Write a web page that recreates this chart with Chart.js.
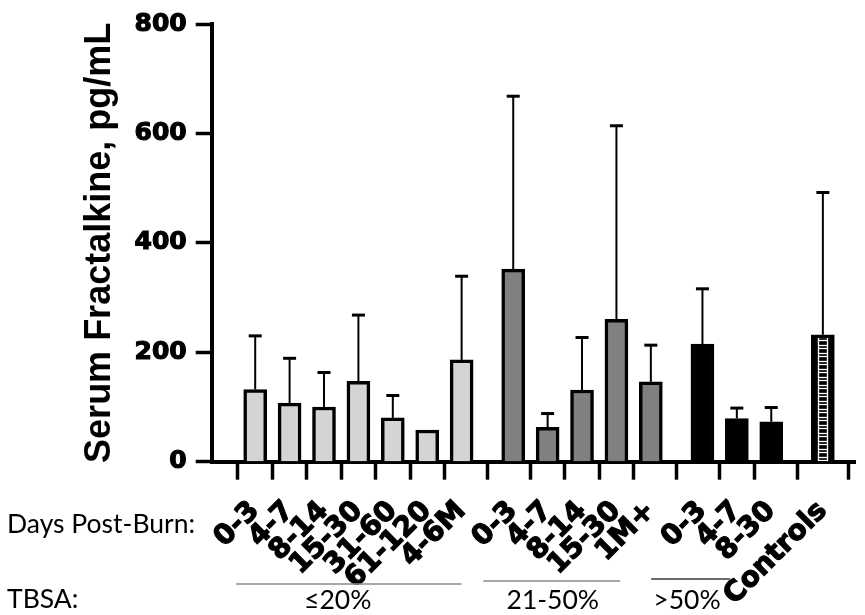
<!DOCTYPE html>
<html>
<head>
<meta charset="utf-8">
<script src="https://cdn.jsdelivr.net/npm/chart.js@4.4.0/dist/chart.umd.min.js"></script>
<style>
  html, body { margin: 0; padding: 0; background: #fff; }
</style>
</head>
<body>
<canvas id="chart" width="865" height="615"></canvas>
<script>
// days post-burn, per TBSA group, then the control group
const dayLabels = ['0-3', '4-7', '8-14', '15-30', '31-60', '61-120', '4-6M',
                   '0-3', '4-7', '8-14', '15-30', '1M+',
                   '0-3', '4-7', '8-30',
                   'Controls'];
// slot of each bar on the x axis (half a slot between groups)
const xSlots = [0, 1, 2, 3, 4, 5, 6,
                7.5, 8.5, 9.5, 10.5, 11.5,
                13, 14, 15,
                16.5];
const meanValues = [132, 107, 100, 147, 80, 58, 186,
                    352, 63, 131, 260, 146,
                    215, 79, 73,
                    232];
// top of the (upper only) error bar, null = none
const upperError = [230, 189, 163, 268, 121, null, 339,
                    668, 88, 227, 614, 213,
                    316, 98, 99,
                    492];
const yTicks = [0, 200, 400, 600, 800];

const tbsaGroups = ['≤20%', '21-50%', '>50%'];
const groupSpans = [[-0.55, 6.0], [6.63, 10.61], [11.51, 13.8]];
const groupCenters = [2.4, 8.65, 12.55];
const groupLineY = [584, 581, 579];
const groupLineColor = ['#8a8a8a', '#8a8a8a', '#3a3a3a'];

const BAR_W = 23;
const BAR_BORDER = 3.5;

// white "brick" motif on black for the control bar
function brickPattern() {
  const c = document.createElement('canvas');
  c.width = 16; c.height = 8;
  const g = c.getContext('2d');
  g.fillStyle = '#000';
  g.fillRect(0, 0, 16, 8);
  g.strokeStyle = '#fff';
  g.lineWidth = 1.3;
  g.strokeRect(3.5, 1.5, 9, 3);
  g.beginPath();
  g.moveTo(3.5, 4.5); g.lineTo(3.5, 9.5);
  g.moveTo(12.5, 4.5); g.lineTo(12.5, 9.5);
  g.moveTo(3.5, -1); g.lineTo(3.5, 1.5);
  g.moveTo(12.5, -1); g.lineTo(12.5, 1.5);
  g.stroke();
  return g.createPattern(c, 'repeat');
}

const ctx = document.getElementById('chart').getContext('2d');
const controlPattern = brickPattern();

const barColors = dayLabels.map((l, i) => {
  if (i < 7) return '#d4d4d4';
  if (i < 12) return '#808080';
  if (i < 15) return '#000000';
  return controlPattern;
});

// line the pattern up with the inside of the control bar
const patternAlign = {
  id: 'patternAlign',
  beforeDatasetsDraw(chart) {
    const meta = chart.getDatasetMeta(0);
    const bar = meta.data[meta.data.length - 1];
    const left = Math.round(bar.x - BAR_W / 2 + BAR_BORDER);
    controlPattern.setTransform(new DOMMatrix().translate(left, 0));
  }
};

const errorBars = {
  id: 'errorBars',
  afterDatasetsDraw(chart) {
    const c = chart.ctx;
    const y = chart.scales.y;
    const meta = chart.getDatasetMeta(0);
    c.save();
    c.strokeStyle = '#000';
    meta.data.forEach((bar, i) => {
      const hi = upperError[i];
      if (hi == null) return;
      const top = y.getPixelForValue(hi);
      c.lineWidth = 2;
      c.beginPath();
      c.moveTo(bar.x, bar.y);
      c.lineTo(bar.x, top);
      c.stroke();
      c.lineWidth = 3;
      c.beginPath();
      c.moveTo(bar.x - 6.5, top);
      c.lineTo(bar.x + 6.5, top);
      c.stroke();
    });
    c.restore();
  }
};

const footLabels = {
  id: 'footLabels',
  afterDraw(chart) {
    const c = chart.ctx;
    const x = chart.scales.x;
    c.save();
    c.fillStyle = '#000';
    c.font = '26.5px Lato';
    c.textAlign = 'left';
    c.textBaseline = 'alphabetic';
    c.fillText('Days Post-Burn:', 7, 533);
    c.fillText('TBSA:', 7, 608);
    c.textAlign = 'center';
    tbsaGroups.forEach((g, i) => {
      c.strokeStyle = groupLineColor[i];
      c.lineWidth = 1.5;
      c.beginPath();
      c.moveTo(x.getPixelForValue(groupSpans[i][0]), groupLineY[i]);
      c.lineTo(x.getPixelForValue(groupSpans[i][1]), groupLineY[i]);
      c.stroke();
      c.fillText(g, x.getPixelForValue(groupCenters[i]), 609);
    });
    c.restore();
  }
};

const tickFont = { family: 'DejaVu Sans', weight: 'bold', size: 25 };

new Chart(ctx, {
  type: 'bar',
  data: {
    datasets: [{
      data: xSlots.map((v, i) => ({ x: v, y: meanValues[i] })),
      backgroundColor: barColors,
      borderColor: '#000',
      borderWidth: BAR_BORDER,
      barThickness: BAR_W
    }]
  },
  options: {
    responsive: false,
    animation: false,
    layout: { padding: { top: 24, right: 10, left: 0, bottom: 0 } },
    plugins: { legend: { display: false }, tooltip: { enabled: false } },
    scales: {
      x: {
        type: 'linear',
        min: -0.68,
        max: 16.85,
        afterBuildTicks: s => { s.ticks = xSlots.map(v => ({ value: v })); },
        afterFit: s => { s.height = 153.3; },
        grid: { drawOnChartArea: false, tickLength: 18, tickWidth: 3.5, tickColor: '#000' },
        border: { display: true, color: '#000', width: 4 },
        ticks: {
          autoSkip: false,
          minRotation: 45,
          maxRotation: 45,
          padding: 15,
          color: '#000',
          textStrokeColor: '#000',
          textStrokeWidth: 1.2,
          font: { family: 'DejaVu Sans', weight: 'bold', size: 28 },
          callback: (v, i) => dayLabels[i]
        }
      },
      y: {
        min: 0,
        max: 800,
        afterBuildTicks: s => { s.ticks = yTicks.map(v => ({ value: v })); },
        afterFit: s => { s.width = 211.7; },
        grid: { drawOnChartArea: false, tickLength: 16, tickWidth: 3.5, tickColor: '#000' },
        border: { display: true, color: '#000', width: 4 },
        ticks: {
          padding: 9,
          color: '#000',
          textStrokeColor: '#000',
          textStrokeWidth: 1.2,
          font: tickFont
        },
        title: {
          display: true,
          text: 'Serum Fractalkine, pg/mL',
          color: '#000',
          padding: { top: 82, bottom: 0 },
          font: { family: 'Liberation Sans', weight: 'bold', size: 36, lineHeight: 1 }
        }
      }
    }
  },
  plugins: [patternAlign, errorBars, footLabels]
});
</script>
</body>
</html>
